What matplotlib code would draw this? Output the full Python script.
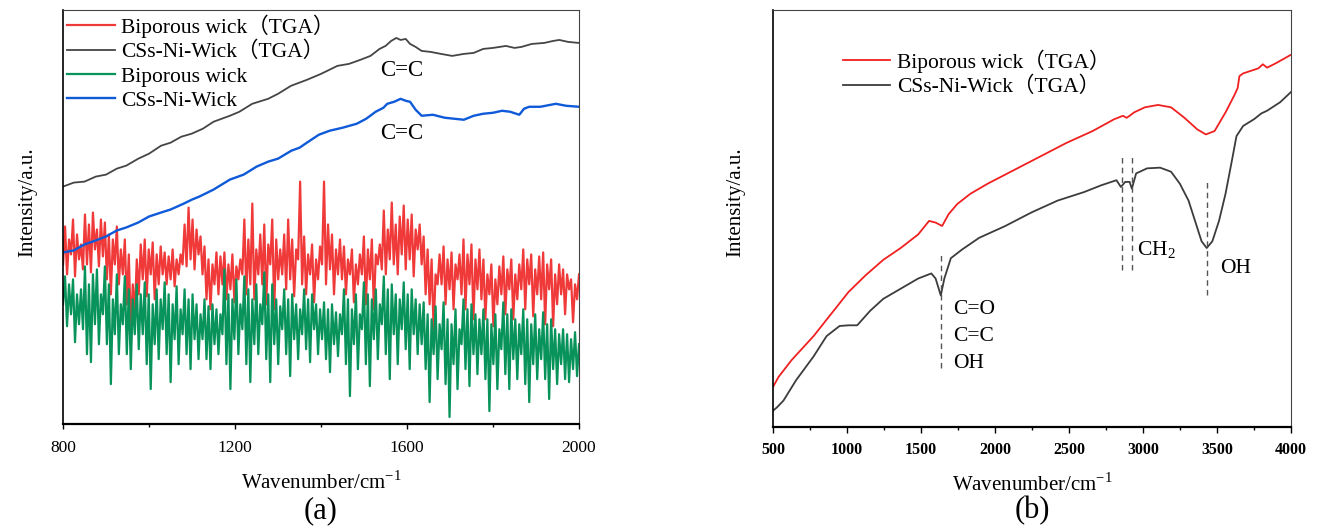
import numpy as np
import matplotlib
matplotlib.use("Agg")
import matplotlib.pyplot as plt
from matplotlib.ticker import MultipleLocator, FixedLocator

plt.rcParams['font.family'] = ['Liberation Serif', 'Noto Sans CJK SC']
plt.rcParams['mathtext.fontset'] = 'custom'
plt.rcParams['mathtext.rm'] = 'Liberation Serif'

# ---- panel (a): 800-2000 cm-1, intensities in arbitrary units ----
gray_a_x = [800, 825, 850, 876, 900, 925, 947, 975, 1000, 1028, 1050, 1075, 1099,
            1125, 1150, 1188, 1210, 1240, 1277, 1300, 1330, 1367, 1400, 1438, 1465,
            1491, 1515, 1536, 1550, 1563, 1575, 1585, 1597, 1607, 1620, 1634, 1655,
            1679, 1705, 1732, 1755, 1777, 1800, 1830, 1850, 1866, 1890, 1919, 1940,
            1954, 1975, 2000]
gray_a_y = [238, 242, 243, 248, 250, 256, 259, 266, 271, 279, 282, 288, 291,
            296, 303, 309, 313, 321, 326, 331, 339, 345, 351, 359, 361,
            365, 369, 376, 379, 384, 387, 385, 386, 381, 378, 374, 373,
            371, 369, 371, 372, 376, 377, 379, 377, 378, 381, 382, 384,
            385, 383, 382]

blue_a_x = [800, 825, 850, 876, 900, 925, 947, 975, 1000, 1028, 1050, 1081, 1100,
            1117, 1150, 1188, 1220, 1250, 1277, 1300, 1331, 1350, 1367, 1395, 1420,
            1450, 1483, 1505, 1527, 1545, 1554, 1570, 1585, 1597, 1607, 1620, 1634,
            1660, 1688, 1710, 1732, 1755, 1777, 1800, 1821, 1840, 1861, 1872, 1884,
            1910, 1946, 1970, 2000]
blue_a_y = [172, 174, 180, 184, 188, 194, 197, 202, 208, 212, 215, 221, 225,
            228, 235, 245, 250, 258, 263, 266, 274, 277, 282, 290, 294,
            297, 301, 306, 313, 317, 321, 323, 326, 324, 323, 315, 309,
            310, 307, 306, 305, 309, 311, 312, 314, 313, 310, 316, 318,
            318, 321, 319, 318]

red_a_y = [
    160, 198, 150, 185, 170, 205, 148, 190, 165, 180,
    155, 210, 160, 200, 152, 212, 175, 195, 158, 205,
    168, 202, 145, 190, 130, 185, 160, 198, 140, 175,
    150, 185, 120, 170, 95, 140, 110, 165, 130, 180,
    145, 185, 128, 175, 150, 182, 125, 170, 140, 178,
    150, 172, 140, 168, 145, 175, 138, 165, 150, 170,
    160, 200, 158, 217, 165, 205, 155, 195, 170, 188,
    150, 178, 125, 165, 115, 160, 140, 172, 130, 168,
    140, 172, 125, 160, 135, 170, 122, 158, 145, 165,
    150, 205, 130, 185, 140, 221, 125, 175, 150, 190,
    140, 200, 120, 180, 160, 205, 115, 185, 145, 175,
    150, 190, 135, 205, 145, 185, 128, 175, 165, 243,
    140, 188, 130, 170, 150, 180, 122, 165, 145, 178,
    160, 243, 140, 200, 155, 190, 130, 175, 150, 185,
    145, 178, 130, 165, 150, 175, 122, 160, 140, 170,
    150, 188, 120, 175, 145, 185, 115, 170, 160, 180,
    155, 214, 150, 195, 165, 222, 160, 200, 150, 208,
    170, 219, 155, 205, 165, 210, 148, 195, 175, 200,
    160, 188, 130, 175, 120, 165, 95, 150, 140, 170,
    140, 178, 120, 165, 135, 172, 115, 160, 145, 170,
    130, 185, 115, 170, 140, 180, 105, 165, 135, 175,
    125, 165, 105, 150, 130, 160, 98, 145, 120, 158,
    130, 168, 110, 155, 135, 165, 105, 150, 125, 160,
    135, 175, 115, 165, 140, 170, 108, 155, 130, 168,
    125, 172, 100, 160, 135, 165, 98, 150, 120, 160,
    130, 155, 110, 150, 135, 145, 102, 140, 125, 150,
]

green_a_y = [
    120, 148, 98, 140, 110, 145, 82, 130, 100, 135,
    95, 158, 70, 140, 62, 150, 100, 155, 80, 130,
    110, 158, 80, 140, 40, 125, 90, 150, 70, 120,
    100, 148, 70, 135, 55, 125, 90, 140, 75, 130,
    90, 142, 60, 130, 35, 120, 80, 135, 65, 125,
    95, 142, 70, 130, 42, 120, 85, 138, 60, 115,
    90, 135, 70, 125, 55, 130, 85, 120, 65, 110,
    85, 125, 65, 118, 55, 120, 80, 115, 70, 110,
    90, 155, 60, 130, 35, 125, 85, 145, 70, 120,
    95, 148, 60, 135, 42, 125, 80, 140, 70, 120,
    100, 152, 65, 130, 42, 140, 80, 125, 60, 118,
    95, 135, 70, 125, 48, 130, 85, 120, 65, 115,
    90, 135, 75, 125, 62, 130, 95, 120, 70, 115,
    85, 122, 65, 115, 52, 120, 80, 112, 68, 110,
    90, 135, 60, 125, 28, 115, 80, 130, 55, 110,
    95, 142, 60, 130, 38, 125, 85, 135, 65, 120,
    100, 148, 70, 135, 45, 140, 90, 130, 60, 125,
    95, 142, 75, 130, 55, 135, 90, 125, 70, 120,
    80, 122, 55, 110, 22, 105, 70, 118, 45, 100,
    75, 122, 40, 105, 7, 100, 60, 115, 35, 95,
    80, 125, 55, 115, 38, 120, 70, 110, 50, 105,
    70, 115, 45, 105, 13, 100, 60, 110, 35, 95,
    75, 122, 50, 110, 35, 115, 65, 105, 45, 100,
    70, 115, 40, 105, 22, 100, 60, 110, 45, 95,
    65, 112, 45, 100, 25, 105, 55, 95, 40, 90,
    60, 95, 45, 90, 42, 85, 55, 92, 48, 80,
]

# ---- panel (b): 500-4000 cm-1 ----
red_b_x = [500, 538, 627, 774, 892, 1010, 1127, 1245, 1363, 1481, 1555, 1599, 1643,
           1687, 1746, 1834, 1952, 2129, 2306, 2483, 2660, 2806, 2865, 2890, 2910,
           2940, 3013, 3102, 3190, 3278, 3367, 3425, 3484, 3558, 3617, 3640, 3652,
           3677, 3780, 3810, 3839, 3898, 4000]
red_b_y = [118, 148, 198, 268, 333, 398, 448, 493, 528, 568, 608, 603, 593,
           628, 658, 688, 718, 758, 798, 838, 873, 908, 918, 912, 918,
           928, 943, 950, 943, 913, 878, 863, 873, 928, 978, 1000, 1035,
           1043, 1058, 1070, 1060, 1073, 1098]

gray_b_x = [500, 527, 571, 656, 774, 862, 950, 1010, 1069, 1157, 1245, 1363, 1481,
            1570, 1599, 1634, 1658, 1702, 1776, 1893, 2070, 2247, 2424, 2602, 2718,
            2821, 2851, 2880, 2910, 2925, 2954, 3028, 3116, 3190, 3249, 3308, 3352,
            3396, 3431, 3469, 3514, 3558, 3602, 3632, 3677, 3751, 3800, 3839, 3927, 4000]
gray_b_y = [48, 58, 78, 138, 208, 268, 298, 300, 300, 343, 378, 408, 438,
            453, 438, 388, 438, 498, 523, 558, 593, 633, 668, 693, 713,
            728, 708, 723, 723, 703, 748, 763, 765, 753, 718, 668, 608,
            548, 528, 548, 608, 688, 788, 858, 888, 908, 925, 933, 958, 988]

# band markers: (x, y_low, y_high)
band_lines = [(1634, 173, 513), (2857, 463, 803), (2925, 463, 803), (3431, 388, 723)]

fig = plt.figure(figsize=(13.22, 5.30), dpi=100)
ax1 = fig.add_axes([0.0477, 0.2000, 0.3903, 0.7811])
ax2 = fig.add_axes([0.5847, 0.1943, 0.3918, 0.7868])

x_noise = np.linspace(800, 2000, len(red_a_y))
xg = np.linspace(800, 2000, len(green_a_y))
ax1.plot(x_noise, red_a_y, color='#f03a3a', lw=1.6, label='Biporous wick（TGA）')
ax1.plot(gray_a_x, gray_a_y, color='#454545', lw=1.3, label='CSs-Ni-Wick（TGA）')
ax1.plot(xg, green_a_y, color='#08935a', lw=1.6, label='Biporous wick')
ax1.plot(blue_a_x, blue_a_y, color='#0f5ad8', lw=1.7, label='CSs-Ni-Wick')
ax1.set_xlim(800, 2000)
ax1.set_ylim(0, 415)
ax1.text(1588, 354, 'C=C', fontsize=16.5, ha='center', va='center')
ax1.text(1588, 291, 'C=C', fontsize=16.5, ha='center', va='center')
ax1.xaxis.set_major_locator(FixedLocator([800, 1200, 1600, 2000]))
ax1.xaxis.set_minor_locator(FixedLocator([1000, 1400, 1800]))
ax1.tick_params(axis='x', which='major', labelsize=12.5, length=3.5, width=1, pad=8)
ax1.tick_params(axis='x', which='minor', length=2.5, width=1)
ax1.set_yticks([])
ax1.set_xlabel('Wavenumber/cm$^{\\mathregular{-1}}$', fontsize=15, labelpad=11)
ax1.set_ylabel('Intensity/a.u.', fontsize=15)
ax1.yaxis.set_label_coords(-0.05, 0.536)
ax1.legend(loc='upper left', bbox_to_anchor=(0, 1.0), frameon=False, fontsize=15.5,
           handlelength=2.2, handletextpad=0.3, labelspacing=0.19, borderaxespad=0.1,
           borderpad=0.1)
ax1.text(0.5, -0.21, '(a)', transform=ax1.transAxes, fontsize=22, ha='center', va='center')

ax2.plot(red_b_x, red_b_y, color='#f02020', lw=1.3, label='Biporous wick（TGA）')
ax2.plot(gray_b_x, gray_b_y, color='#3c3c3c', lw=1.3, label='CSs-Ni-Wick（TGA）')
for bx, y0, y1 in band_lines:
    ax2.plot([bx, bx], [y0, y1], color='#555555', lw=1, ls=(0, (4, 3)))
ax2.text(1717, 348, 'C=O', fontsize=15.5, va='center')
ax2.text(1717, 268, 'C=C', fontsize=15.5, va='center')
ax2.text(1717, 188, 'OH', fontsize=15.5, va='center')
ax2.text(2963, 523, 'CH$_\\mathregular{2}$', fontsize=15.5, va='center')
ax2.text(3523, 468, 'OH', fontsize=15.5, va='center')
ax2.set_xlim(500, 4000)
ax2.set_ylim(0, 1230)
ax2.xaxis.set_major_locator(MultipleLocator(500))
ax2.xaxis.set_minor_locator(MultipleLocator(250))
ax2.tick_params(axis='x', which='major', labelsize=11.5, length=4, width=1, pad=6.5)
ax2.tick_params(axis='x', which='minor', length=2.4, width=1)
for lab in ax2.get_xticklabels():
    lab.set_fontweight('bold')
ax2.set_yticks([])
ax2.set_xlabel('Wavenumber/cm$^{\\mathregular{-1}}$', fontsize=15, labelpad=11)
ax2.set_ylabel('Intensity/a.u.', fontsize=15)
ax2.yaxis.set_label_coords(-0.054, 0.54)
ax2.legend(loc='upper left', bbox_to_anchor=(0.131, 0.911), frameon=False, fontsize=15.5,
           handlelength=2.2, handletextpad=0.3, labelspacing=0.19, borderpad=0.1,
           borderaxespad=0)
ax2.text(0.5, -0.2, '(b)', transform=ax2.transAxes, fontsize=22, ha='center', va='center')

for ax in (ax1, ax2):
    ax.spines['bottom'].set_linewidth(1.6)
    ax.spines['left'].set_linewidth(1.2)
    ax.spines['top'].set_linewidth(0.8)
    ax.spines['right'].set_linewidth(0.8)
    ax.spines['top'].set_color('#444444')
    ax.spines['right'].set_color('#444444')

fig.savefig('out.png', dpi=100)
